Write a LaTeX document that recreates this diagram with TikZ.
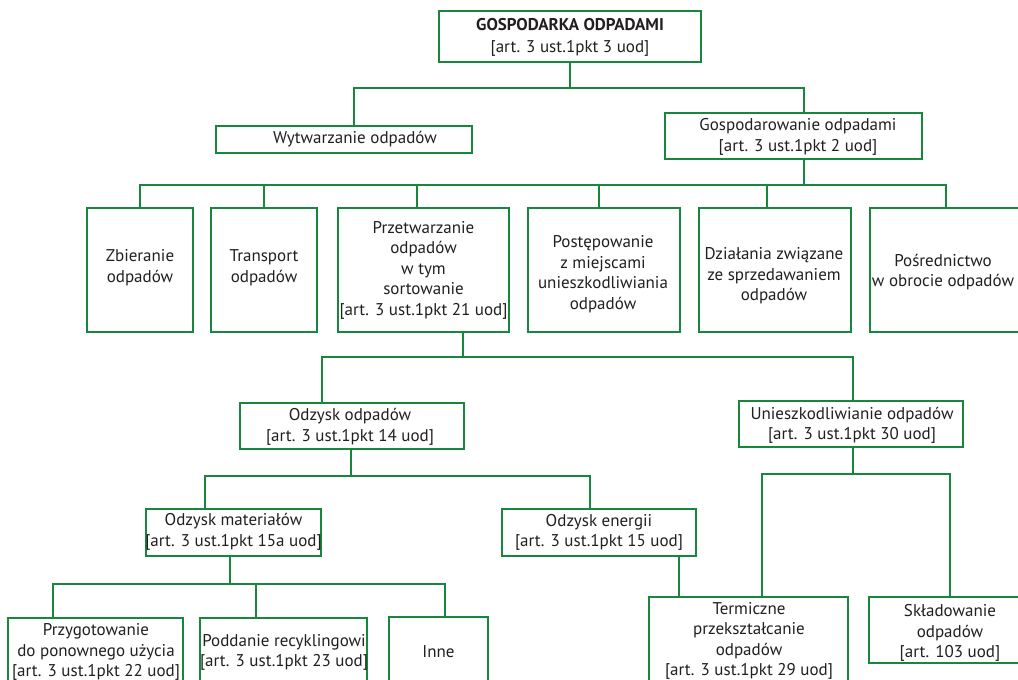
\documentclass[tikz,border=0pt]{standalone}
\usepackage{fontspec}
\setmainfont{PT Sans}
\definecolor{gr}{RGB}{22,135,60}
\definecolor{tx}{RGB}{35,31,32}
\begin{document}
\begin{tikzpicture}[x=1pt,y=-1pt,
  box/.style={draw=gr,line width=1.5pt,rectangle,inner sep=0pt,fill=white},
  txt/.style={inner sep=0pt,align=center,text=tx,font=\fontsize{17}{20.5}\selectfont},
  conn/.style={draw=gr,line width=1.3pt}]
\useasboundingbox (0,0) rectangle (1018,680);
\clip (0,0) rectangle (1018,680);
\fill[white] (0,0) rectangle (1018,680);
% boxes
\node[box,minimum width=262,minimum height=51] (T) at (570,36.5) {};
\node[box,minimum width=256,minimum height=27] (W) at (344,139.5) {};
\node[box,minimum width=257,minimum height=46] (G) at (793.5,136) {};
\node[box,minimum width=106,minimum height=124] (Z) at (140,270) {};
\node[box,minimum width=106,minimum height=124] (Tr) at (264,270) {};
\node[box,minimum width=171,minimum height=124] (P) at (423.5,270) {};
\node[box,minimum width=152,minimum height=124] (Po) at (604,270) {};
\node[box,minimum width=152,minimum height=124] (D) at (775,270) {};
\node[box,minimum width=155,minimum height=124] (Ps) at (947.5,270) {};
\node[box,minimum width=224,minimum height=46] (O) at (352,426) {};
\node[box,minimum width=224,minimum height=46] (U) at (851,424) {};
\node[box,minimum width=175,minimum height=47] (OM) at (233.5,532.5) {};
\node[box,minimum width=194,minimum height=47] (OE) at (599,532.5) {};
\node[box,minimum width=175,minimum height=70] (PR) at (95.5,653) {};
\node[box,minimum width=167,minimum height=70] (PD) at (283.5,653) {};
\node[box,minimum width=99,minimum height=70] (IN) at (438.5,652) {};
\node[box,minimum width=199,minimum height=90] (TE) at (748.5,642) {};
\node[box,minimum width=162,minimum height=66] (SK) at (950,630) {};
% texts
\node[txt,font=\fontsize{17}{22}\selectfont] (Tt) at (570,37) {\textbf{GOSPODARKA ODPADAMI}\\{}[art. 3 ust.1pkt 3 uod]};
\node[txt] (Wt) at (355,139.5) {Wytwarzanie odpadów};
\node[txt] (Gt) at (798,137) {Gospodarowanie odpadami\\{}[art. 3 ust.1pkt 2 uod]};
\node[txt] (Zt) at (140,267.5) {Zbieranie\\odpadów};
\node[txt] (Trt) at (264,267.5) {Transport\\odpadów};
\node[txt] (Pt) at (423.5,270) {Przetwarzanie\\odpadów\\w tym\\sortowanie\\{}[art. 3 ust.1pkt 21 uod]};
\node[txt] (Pot) at (603,274) {Postępowanie\\z miejscami\\unieszkodliwiania\\odpadów};
\node[txt] (Dt) at (774,276) {Działania związane\\ze sprzedawaniem\\odpadów};
\node[txt] (Pst) at (943,272) {Pośrednictwo\\w obrocie odpadów};
\node[txt] (Ot) at (350,427) {Odzysk odpadów\\{}[art. 3 ust.1pkt 14 uod]};
\node[txt] (Ut) at (852,425.5) {Unieszkodliwianie odpadów\\{}[art. 3 ust.1pkt 30 uod]};
\node[txt] (OMt) at (233.5,532) {Odzysk materiałów\\{}[art. 3 ust.1pkt 15a uod]};
\node[txt] (OEt) at (599,532.5) {Odzysk energii\\{}[art. 3 ust.1pkt 15 uod]};
\node[txt] (PRt) at (96,652) {Przygotowanie\\do ponownego użycia\\{}[art. 3 ust.1pkt 22 uod]};
\node[txt] (PDt) at (284,652.5) {Poddanie recyklingowi\\{}[art. 3 ust.1pkt 23 uod]};
\node[txt] (INt) at (438.5,652) {Inne};
\node[txt] (TEt) at (749,641) {Termiczne\\przekształcanie\\odpadów\\{}[art. 3 ust.1pkt 29 uod]};
\node[txt] (SKt) at (950,633) {Składowanie\\odpadów\\{}[art. 103 uod]};
% junctions
\coordinate (b1) at (570,88);
\coordinate (b2) at (804,185);
\coordinate (b3) at (463,357);
\coordinate (b4) at (351,476);
\coordinate (b5) at (230,584);
\coordinate (b6) at (853,474);
% connectors
\draw[conn] (T.south) -- (b1);
\draw[conn] ([xshift=10]W.north) |- (b1);
\draw[conn] ([xshift=10.5]G.north) |- (b1);
\draw[conn] ([xshift=10.5]G.south) -- (b2);
\draw[conn] (Z.north) |- (b2);
\draw[conn] (Tr.north) |- (b2);
\draw[conn] ([xshift=-6.5]P.north) |- (b2);
\draw[conn] ([xshift=-5]Po.north) |- (b2);
\draw[conn] ([xshift=-8]D.north) |- (b2);
\draw[conn] ([xshift=-1.5]Ps.north) |- (b2);
\draw[conn] ([xshift=39.5]P.south) -- (b3);
\draw[conn] ([xshift=-30]O.north) |- (b3);
\draw[conn] ([xshift=2]U.north) |- (b3);
\draw[conn] ([xshift=-1]O.south) -- (b4);
\draw[conn] ([xshift=-28.5]OM.north) |- (b4);
\draw[conn] ([xshift=-9]OE.north) |- (b4);
\draw[conn] ([xshift=-3.5]OM.south) -- (b5);
\draw[conn] ([xshift=-42.5]PR.north) |- (b5);
\draw[conn] ([xshift=-27.5]PD.north) |- (b5);
\draw[conn] ([xshift=6.5]IN.north) |- (b5);
\draw[conn] ([xshift=2]U.south) -- (b6);
\draw[conn] ([xshift=13.5]TE.north) |- (b6);
\draw[conn] (SK.north) |- (b6);
\draw[conn] ([xshift=80]OE.south) -- ([xshift=-69.5]TE.north);
\end{tikzpicture}
\end{document}
